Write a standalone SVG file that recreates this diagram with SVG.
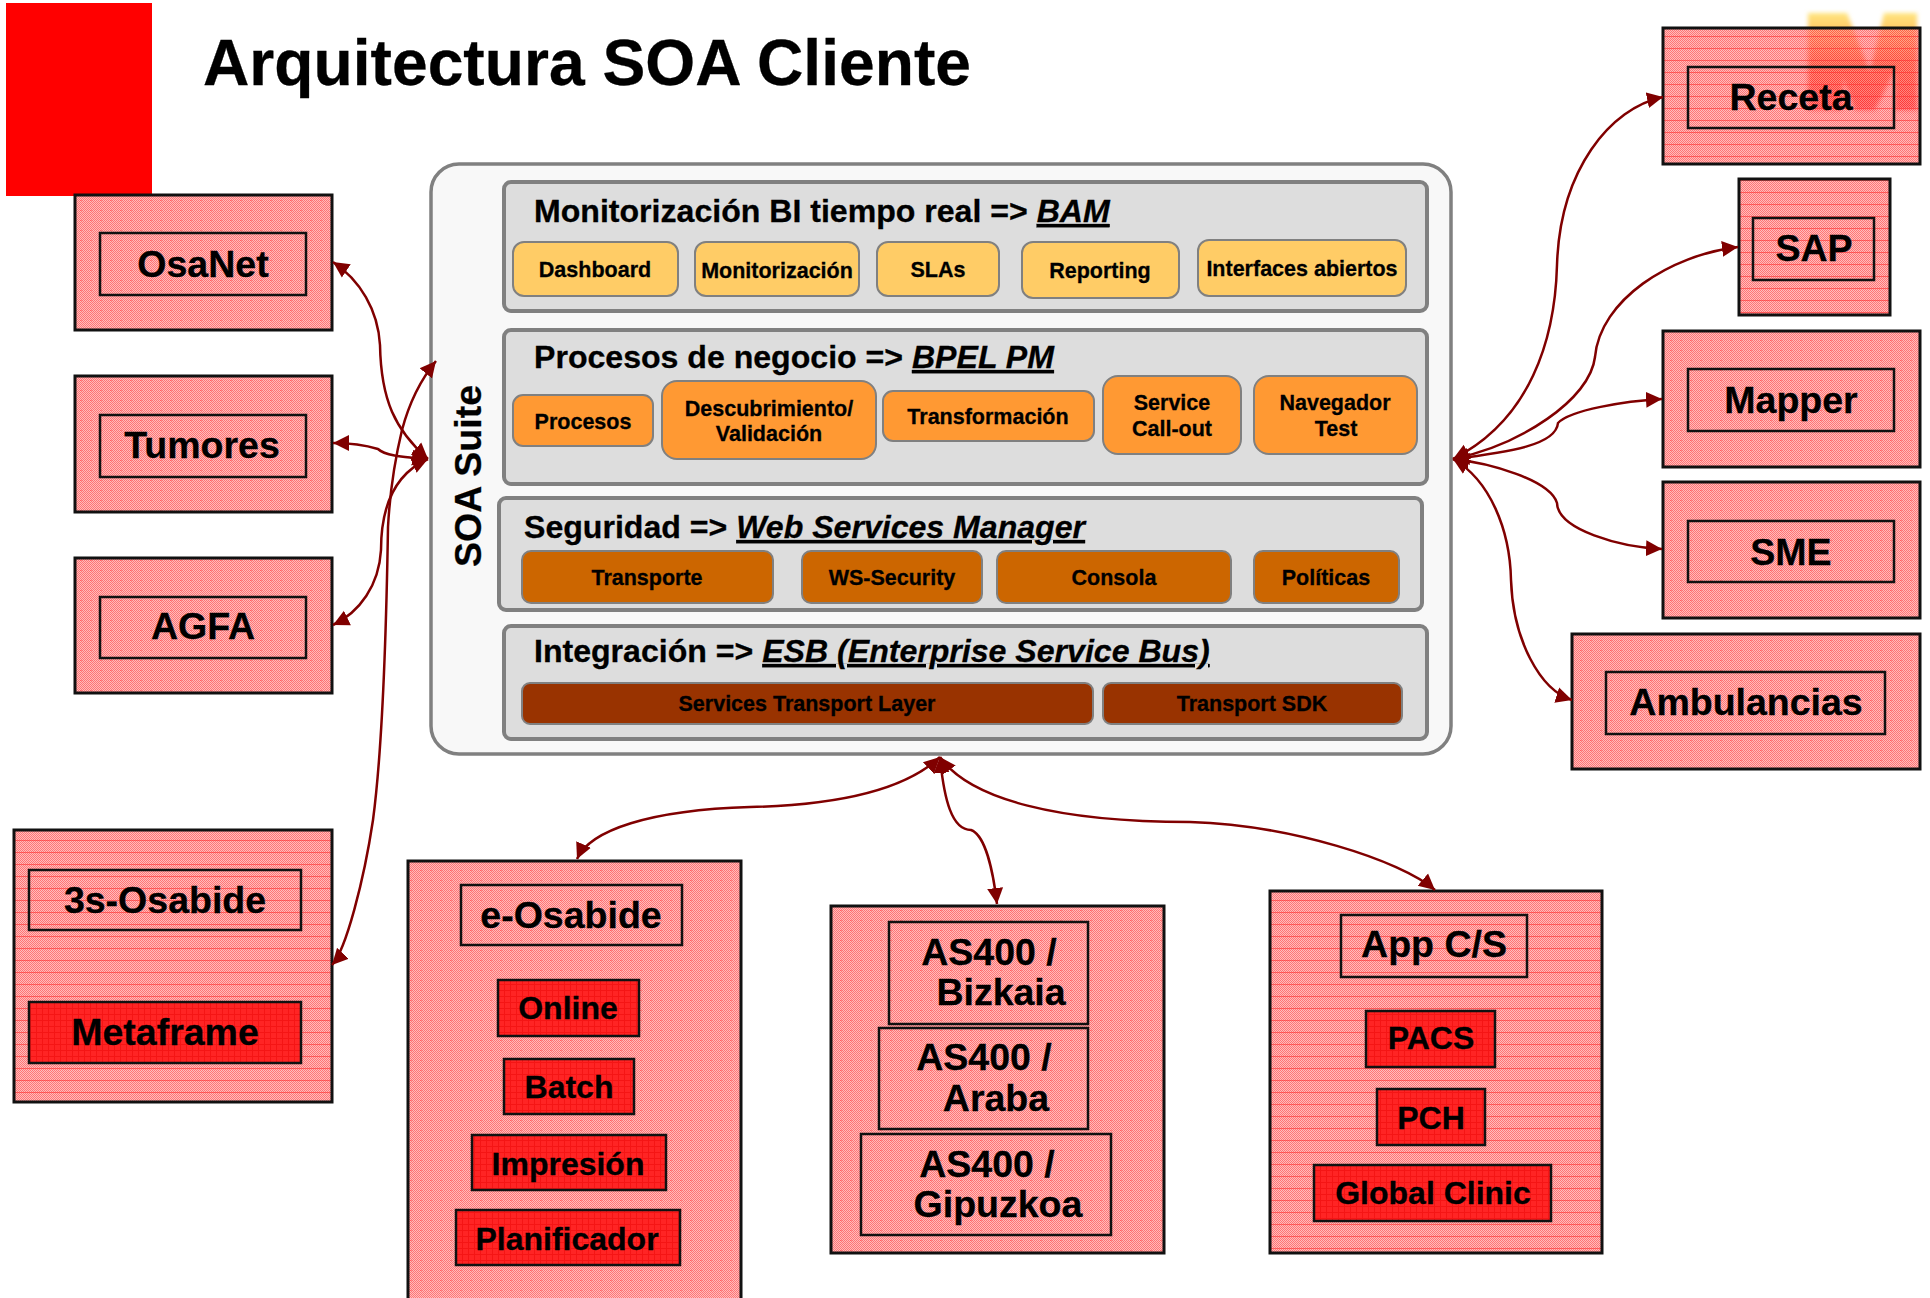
<svg xmlns="http://www.w3.org/2000/svg" width="1930" height="1298" viewBox="0 0 1930 1298">
<style>
text{font-family:"Liberation Sans",Arial,sans-serif;font-weight:700;fill:#000;stroke:#000;stroke-width:.3}
.o{stroke:#111;stroke-width:3}
.i{fill:none;stroke:#111;stroke-width:2.5}
.a{fill:url(#pinkA)}
.b{fill:url(#pinkB)}
.r{fill:url(#redF);stroke:#111;stroke-width:2.5}
.l{font-size:37.5px;text-anchor:middle}
.m{font-size:32px;text-anchor:middle}
.p{fill:#ddd;stroke:#808080;stroke-width:4}
.h{font-size:32.1px}
.h tspan.u{font-style:italic;text-decoration:underline}
.c{stroke:#808080;stroke-width:2}
.y{fill:#fc6}.n{fill:#f93}.d{fill:#c60}.e{fill:#930}
.t{font-size:21.5px;text-anchor:middle}
#connectors path{fill:none;stroke:#800000;stroke-width:2.5;marker-start:url(#ah);marker-end:url(#ah)}
</style>
<defs>
<marker id="ah" markerUnits="userSpaceOnUse" markerWidth="18" markerHeight="18" viewBox="0 0 18 18" refX="16" refY="9" orient="auto-start-reverse"><path d="M0,1L16,9L0,17Z" fill="#800000"/></marker>
<pattern id="chk" width="2" height="2" patternUnits="userSpaceOnUse"><rect x="1" width="1" height="1" fill="#ffa0a0" fill-opacity=".7"/><rect y="1" width="1" height="1" fill="#ffa0a0" fill-opacity=".7"/><rect width="1" height="1" fill="#ff3a3a" fill-opacity=".7"/><rect x="1" y="1" width="1" height="1" fill="#ff3a3a" fill-opacity=".7"/></pattern>
<pattern id="pinkA" width="10" height="10" patternUnits="userSpaceOnUse"><rect width="10" height="10" fill="url(#chk)"/><rect width="2" height="1" fill="#ff5050" fill-opacity=".5"/></pattern>
<pattern id="pinkB" width="4" height="12" patternUnits="userSpaceOnUse"><rect width="4" height="12" fill="url(#chk)"/><rect width="4" height="1" fill="#ff3030" fill-opacity=".6"/></pattern>
<pattern id="redF" width="6" height="6" patternUnits="userSpaceOnUse"><rect width="6" height="6" fill="#ff2424"/><rect width="6" height="1" fill="#f51515"/><rect width="1" height="6" fill="#f51515"/></pattern>
<linearGradient id="mg" x1="0" y1="0" x2="0" y2="1"><stop offset="0" stop-color="#ffe680"/><stop offset=".22" stop-color="#ffc060"/><stop offset=".5" stop-color="#ff6a30"/><stop offset="1" stop-color="#ff3030"/></linearGradient>
<filter id="blur" x="-10%" y="-10%" width="120%" height="120%"><feGaussianBlur stdDeviation="2"/></filter>
</defs>

<rect id="red-square" x="6" y="3" width="146" height="193" fill="#f00"/>
<path id="logo-m" d="M1808,13H1847L1870,72L1884,13H1917V110H1895V70L1875,110H1855L1843,78V110H1808Z" fill="url(#mg)" filter="url(#blur)"/>
<text id="title" x="203" y="85" font-size="64.2">Arquitectura SOA Cliente</text>

<g id="soa-suite">
<rect x="431" y="164" width="1020" height="590" rx="28" fill="#f8f8f8" stroke="#808080" stroke-width="3.5"/>
<text transform="translate(481 476) rotate(-90)" font-size="37.5" text-anchor="middle">SOA Suite</text>
</g>
<g id="layer-bam">
<rect class="p" x="504" y="182" width="923" height="129" rx="7"/>
<text class="h" x="534" y="222">Monitorización BI tiempo real =&gt; <tspan class="u">BAM</tspan></text>
<rect class="c y" x="513" y="242" width="165" height="54" rx="11"/><text class="t" x="595" y="277">Dashboard</text>
<rect class="c y" x="695" y="242" width="164" height="54" rx="11"/><text class="t" x="777" y="278">Monitorización</text>
<rect class="c y" x="877" y="242" width="122" height="54" rx="11"/><text class="t" x="938" y="277">SLAs</text>
<rect class="c y" x="1022" y="242" width="157" height="56" rx="11"/><text class="t" x="1100" y="278">Reporting</text>
<rect class="c y" x="1198" y="240" width="208" height="56" rx="11"/><text class="t" x="1302" y="276">Interfaces abiertos</text>
</g>
<g id="layer-bpel">
<rect class="p" x="504" y="330" width="923" height="154" rx="7"/>
<text class="h" x="534" y="368">Procesos de negocio =&gt; <tspan class="u">BPEL PM</tspan></text>
<rect class="c n" x="513" y="395" width="140" height="51" rx="10"/><text class="t" x="583" y="429">Procesos</text>
<rect class="c n" x="662" y="381" width="214" height="78" rx="15"/><text class="t" x="769" y="416">Descubrimiento/</text><text class="t" x="769" y="441">Validación</text>
<rect class="c n" x="883" y="391" width="211" height="50" rx="10"/><text class="t" x="988" y="424">Transformación</text>
<rect class="c n" x="1103" y="376" width="138" height="78" rx="15"/><text class="t" x="1172" y="410">Service</text><text class="t" x="1172" y="436">Call-out</text>
<rect class="c n" x="1254" y="376" width="163" height="78" rx="15"/><text class="t" x="1335" y="410">Navegador</text><text class="t" x="1336" y="436">Test</text>
</g>
<g id="layer-wsm">
<rect class="p" x="499" y="498" width="923" height="112" rx="7"/>
<text class="h" x="524" y="538">Seguridad =&gt; <tspan class="u">Web Services Manager</tspan></text>
<rect class="c d" x="522" y="551" width="251" height="52" rx="9"/><text class="t" x="647" y="585">Transporte</text>
<rect class="c d" x="802" y="551" width="180" height="52" rx="9"/><text class="t" x="892" y="585">WS-Security</text>
<rect class="c d" x="997" y="551" width="234" height="52" rx="9"/><text class="t" x="1114" y="585">Consola</text>
<rect class="c d" x="1254" y="551" width="145" height="52" rx="9"/><text class="t" x="1326" y="585">Políticas</text>
</g>
<g id="layer-esb">
<rect class="p" x="504" y="626" width="923" height="113" rx="7"/>
<text class="h" x="534" y="662">Integración =&gt; <tspan class="u">ESB (Enterprise Service Bus)</tspan></text>
<rect class="c e" x="522" y="683" width="571" height="41" rx="8"/><text class="t" x="807" y="711">Services Transport Layer</text>
<rect class="c e" x="1103" y="683" width="299" height="41" rx="8"/><text class="t" x="1252" y="711">Transport SDK</text>
</g>

<g id="osanet"><rect class="o a" x="75" y="195" width="257" height="135"/><rect class="i" x="100" y="233" width="206" height="62"/><text class="l" x="203" y="277">OsaNet</text></g>
<g id="tumores"><rect class="o a" x="75" y="376" width="257" height="136"/><rect class="i" x="100" y="415" width="206" height="62"/><text class="l" x="202" y="458">Tumores</text></g>
<g id="agfa"><rect class="o a" x="75" y="558" width="257" height="135"/><rect class="i" x="100" y="597" width="206" height="61"/><text class="l" x="203" y="639">AGFA</text></g>
<g id="osabide-3s"><rect class="o b" x="14" y="830" width="318" height="272"/><rect class="i" x="29" y="870" width="272" height="60"/><text class="l" x="165" y="913">3s-Osabide</text><rect class="r" x="29" y="1002" width="272" height="61"/><text class="l" x="165" y="1045">Metaframe</text></g>
<g id="e-osabide"><rect class="o a" x="408" y="861" width="333" height="450"/><rect class="i" x="461" y="885" width="221" height="60"/><text class="l" x="571" y="928">e-Osabide</text>
<rect class="r" x="498" y="980" width="141" height="56"/><text class="m" x="568" y="1019">Online</text>
<rect class="r" x="504" y="1059" width="130" height="55"/><text class="m" x="569" y="1098">Batch</text>
<rect class="r" x="472" y="1135" width="194" height="55"/><text class="m" x="568" y="1175">Impresión</text>
<rect class="r" x="456" y="1210" width="224" height="55"/><text class="m" x="567" y="1250">Planificador</text></g>
<g id="as400"><rect class="o a" x="831" y="906" width="333" height="347"/>
<rect class="i" x="889" y="922" width="199" height="102"/><text class="l" x="989" y="965">AS400 /</text><text class="l" x="1001" y="1005">Bizkaia</text>
<rect class="i" x="879" y="1028" width="209" height="101"/><text class="l" x="984" y="1070">AS400 /</text><text class="l" x="996" y="1111">Araba</text>
<rect class="i" x="861" y="1134" width="250" height="101"/><text class="l" x="987" y="1177">AS400 /</text><text class="l" x="998" y="1217">Gipuzkoa</text></g>
<g id="app-cs"><rect class="o b" x="1270" y="891" width="332" height="362"/><rect class="i" x="1341" y="915" width="186" height="62"/><text class="l" x="1434" y="957">App C/S</text>
<rect class="r" x="1366" y="1011" width="129" height="56"/><text class="m" x="1431" y="1049">PACS</text>
<rect class="r" x="1377" y="1089" width="108" height="56"/><text class="m" x="1431" y="1129">PCH</text>
<rect class="r" x="1314" y="1165" width="237" height="56"/><text class="m" x="1433" y="1204">Global Clinic</text></g>
<g id="receta"><rect class="o b" x="1663" y="28" width="257" height="136"/><rect class="i" x="1688" y="67" width="206" height="61"/><text class="l" x="1791" y="110">Receta</text></g>
<g id="sap"><rect class="o b" x="1739" y="179" width="151" height="136"/><rect class="i" x="1753" y="218" width="121" height="62"/><text class="l" x="1814" y="261">SAP</text></g>
<g id="mapper"><rect class="o a" x="1663" y="331" width="257" height="136"/><rect class="i" x="1688" y="369" width="206" height="62"/><text class="l" x="1791" y="413">Mapper</text></g>
<g id="sme"><rect class="o a" x="1663" y="482" width="257" height="136"/><rect class="i" x="1688" y="521" width="206" height="61"/><text class="l" x="1791" y="565">SME</text></g>
<g id="ambulancias"><rect class="o a" x="1572" y="634" width="348" height="135"/><rect class="i" x="1606" y="672" width="279" height="62"/><text class="l" x="1746" y="715">Ambulancias</text></g>

<g id="connectors">
<path d="M333,262C360,280 378,310 380,345C381,400 395,430 428,459"/>
<path d="M333,443C350,443 365,445 378,449C385,456 405,457 428,459"/>
<path d="M333,625C360,612 379,585 381,550C381,510 392,475 428,459"/>
<path d="M332,965C346,950 364,880 373,820C381,760 386,650 388,527C390,490 396,455 402,430C410,400 422,378 436,361"/>
<path d="M1663,97C1610,108 1560,170 1557,265C1555,340 1530,420 1453,459"/>
<path d="M1738,247C1670,255 1600,300 1595,357C1590,400 1520,445 1453,459"/>
<path d="M1662,399C1625,401 1570,410 1558,423C1556,445 1510,452 1453,459"/>
<path d="M1453,459C1490,463 1550,480 1557,503C1558,530 1620,547 1662,549"/>
<path d="M1453,459C1490,480 1510,530 1511,580C1513,640 1540,690 1572,700"/>
<path d="M577,859C590,830 650,810 750,807C840,805 905,790 940,757"/>
<path d="M940,757C944,800 952,830 971,830C985,835 993,870 997,904"/>
<path d="M940,757C970,800 1060,822 1190,822C1290,825 1400,860 1435,890"/>
</g>
</svg>
